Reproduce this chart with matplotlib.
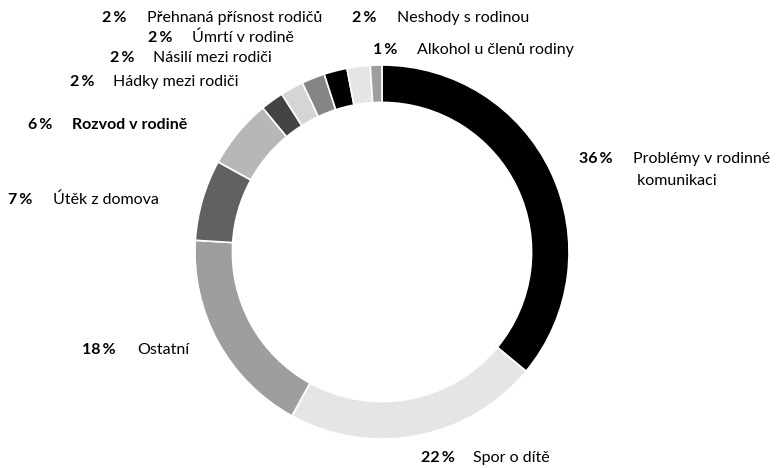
import matplotlib
matplotlib.use("Agg")
import matplotlib.pyplot as plt

categories = ["Problémy v rodinné\n komunikaci", "Spor o dítě", "Ostatní", "Útěk z domova",
              "Rozvod v rodině", "Hádky mezi rodiči", "Násilí mezi rodiči", "Úmrtí v rodině",
              "Přehnaná přísnost rodičů", "Neshody s rodinou", "Alkohol u členů rodiny"]
values = [36, 22, 18, 7, 6, 2, 2, 2, 2, 2, 1]
colors = ["#000000", "#e5e5e5", "#9d9e9d", "#616161", "#b6b7b7", "#444444",
          "#d4d5d4", "#858585", "#000000", "#e5e5e5", "#9d9e9d"]
bold_name = [False, False, False, False, True, False, False, False, False, False, False]

# label layout (pixel positions: pct right edge x, name left x, y)
label_pos = [(613, 633, 159), (455, 473, 458), (116, 137, 350), (32, 53, 200),
             (52, 72, 125), (95, 113, 82), (135, 153, 58), (172, 192, 38),
             (127, 147, 18), (377, 397, 18), (397, 417, 50)]

plt.rcParams['font.family'] = ['Lato', 'DejaVu Sans']

W, H = 780, 468
fig = plt.figure(figsize=(W / 100, H / 100), dpi=100)
cx, cy, R = 382, 252, 187
ax = fig.add_axes([(cx - R) / W, (H - cy - R) / H, 2 * R / W, 2 * R / H])
ax.pie(values, colors=colors, startangle=90, counterclock=False, radius=1.0,
       wedgeprops=dict(width=0.2, edgecolor="white", linewidth=1.2))
ax.set_xlim(-1, 1)
ax.set_ylim(-1, 1)
ax.set_aspect("equal")
ax.axis("off")

fs = 11.5
line_gap = 22
for name, v, b, (px, nx, y) in zip(categories, values, bold_name, label_pos):
    fig.text(px / W, 1 - y / H, f"{v}\u2009%", ha="right", va="center", fontsize=fs,
             fontweight="bold", color="#000000")
    for i, line in enumerate(name.split("\n")):
        fig.text(nx / W, 1 - (y + i * line_gap) / H, line, ha="left", va="center",
                 fontsize=fs, fontweight="bold" if b else "normal", color="#000000")

fig.savefig("out.png", dpi=100)
